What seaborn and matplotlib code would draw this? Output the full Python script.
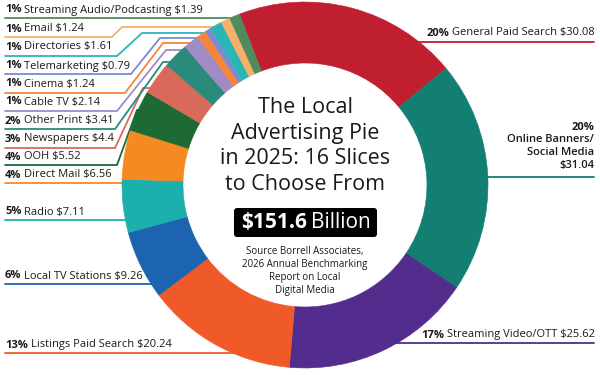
import matplotlib
matplotlib.use('Agg')
import matplotlib.pyplot as plt
from matplotlib.patches import FancyBboxPatch
import seaborn as sns

# slices, clockwise from General Paid Search
CHANNELS = ['General Paid Search', 'Online Banners/\nSocial Media', 'Streaming Video/OTT',
            'Listings Paid Search', 'Local TV Stations', 'Radio', 'Direct Mail', 'OOH',
            'Newspapers', 'Other Print', 'Cable TV', 'Cinema', 'Telemarketing',
            'Directories', 'Email', 'Streaming Audio/Podcasting']
SPEND = [30.08, 31.04, 25.62, 20.24, 9.26, 7.11, 6.56, 5.52,
         4.4, 3.41, 2.14, 1.24, 0.79, 1.61, 1.24, 1.39]
SHARE = ['20%', '20%', '17%', '13%', '6%', '5%', '4%', '4%',
         '3%', '2%', '1%', '1%', '1%', '1%', '1%', '1%']
COLORS = ['#c01f30', '#137e72', '#522d8d', '#f05a28', '#1c63b0', '#1bb0ae',
          '#f58a22', '#1d6a35', '#d9695b', '#2a8a7c', '#a18bc5', '#f5853c',
          '#7a8bd1', '#2bb6b6', '#f7b06a', '#4f8b5b']

TITLE = 'The Local\nAdvertising Pie\nin 2025: 16 Slices\nto Choose From'
TOTAL_BOLD = '$151.6'
TOTAL_REG = 'Billion'
SOURCE = 'Source Borrell Associates,\n2026 Annual Benchmarking\nReport on Local\nDigital Media'

# layout in pixel coords (y measured from the top)
W, H = 600, 375
CX, CY, R, RING = 305, 185, 183, 61
# label anchor (x, y, ha) and leader path for each slice
LAYOUT = [
    (595, 33, 'right', [(410, 42), (594, 42)]),
    (594, 127, 'right', [(470, 177), (594, 177)]),
    (595, 335, 'right', [(395, 343), (594, 343)]),
    (5, 345, 'left', [(5, 353), (250, 353)]),
    (5, 276, 'left', [(5, 284), (170, 284)]),
    (5, 212, 'left', [(5, 220), (150, 220)]),
    (5, 175, 'left', [(5, 183), (150, 183)]),
    (5, 157, 'left', [(5, 165), (117, 165), (137, 110), (155, 110)]),
    (5, 139, 'left', [(5, 148), (115, 148), (143, 88), (170, 88)]),
    (5, 121, 'left', [(5, 129), (115, 129), (163, 62), (185, 62)]),
    (5, 102, 'left', [(5, 111), (117, 111), (166, 50), (195, 50)]),
    (5, 84, 'left', [(5, 93), (125, 93), (163, 43), (200, 43)]),
    (5, 66, 'left', [(5, 74), (131, 74), (160, 38), (210, 38)]),
    (5, 47, 'left', [(5, 56), (117, 56), (142, 33), (215, 33)]),
    (5, 29, 'left', [(5, 37), (112, 37), (122, 27), (225, 27)]),
    (5, 10, 'left', [(5, 18), (240, 18)]),
]


def Y(y):
    return H - y


sns.set_style('white')
plt.rcParams['font.family'] = ['Open Sans', 'DejaVu Sans']
INK = '#1a1a1a'

fig = plt.figure(figsize=(6, 3.75), dpi=100)
ax = fig.add_axes([0, 0, 1, 1])

wedges, _ = ax.pie(SPEND, colors=COLORS, startangle=111, counterclock=False, radius=R,
                   center=(CX, Y(CY)), wedgeprops=dict(width=RING, linewidth=0.4),
                   frame=False)
for w, col in zip(wedges, COLORS):
    w.set_edgecolor(col)
    w.set_zorder(3)

fs = 8
for name, val, pct, col, (tx, ty, ha, path) in zip(CHANNELS, SPEND, SHARE, COLORS, LAYOUT):
    ax.plot([p[0] for p in path], [Y(p[1]) for p in path], color=col, lw=1.3,
            zorder=2, solid_joinstyle='miter')
    money = '$' + format(val, 'g')
    if '\n' in name:
        ax.text(tx, Y(ty), pct, ha='right', va='center', fontsize=fs,
                fontweight='bold', color=INK)
        ax.text(tx, Y(ty + 7), name + '\n' + money, ha='right', va='top',
                fontsize=fs, color=INK, linespacing=1.25, fontweight='semibold')
    elif ha == 'left':
        t = ax.text(tx, Y(ty), pct, ha='left', va='center', fontsize=fs,
                    fontweight='bold', color=INK)
        ax.annotate(name + ' ' + money, xy=(1, 0), xycoords=t, xytext=(2, 0),
                    textcoords='offset points', ha='left', va='bottom',
                    fontsize=fs, color=INK)
    else:
        t = ax.text(tx, Y(ty), name + ' ' + money, ha='right', va='center',
                    fontsize=fs, color=INK)
        ax.annotate(pct, xy=(0, 0), xycoords=t, xytext=(-2, 0),
                    textcoords='offset points', ha='right', va='bottom',
                    fontsize=fs, fontweight='bold', color=INK)

# centre text
ax.text(CX, Y(146), TITLE, ha='center', va='center', fontsize=15.5,
        color=INK, linespacing=1.3, zorder=5)
box = FancyBboxPatch((234, Y(237)), 143, 29, boxstyle='round,pad=0,rounding_size=3',
                     facecolor='black', edgecolor='none', zorder=5)
ax.add_patch(box)
ax.text(307, Y(223), TOTAL_BOLD, ha='right', va='center', fontsize=15,
        fontweight='bold', color='white', zorder=6)
ax.text(311, Y(223), TOTAL_REG, ha='left', va='center', fontsize=15,
        color='white', zorder=6)
ax.text(CX, Y(271), SOURCE, ha='center', va='center', fontsize=7,
        color=INK, linespacing=1.25, zorder=5)

ax.set_xlim(0, W)
ax.set_ylim(0, H)
ax.set_aspect('equal')
ax.axis('off')

fig.savefig('out.png', dpi=100, facecolor='white')
